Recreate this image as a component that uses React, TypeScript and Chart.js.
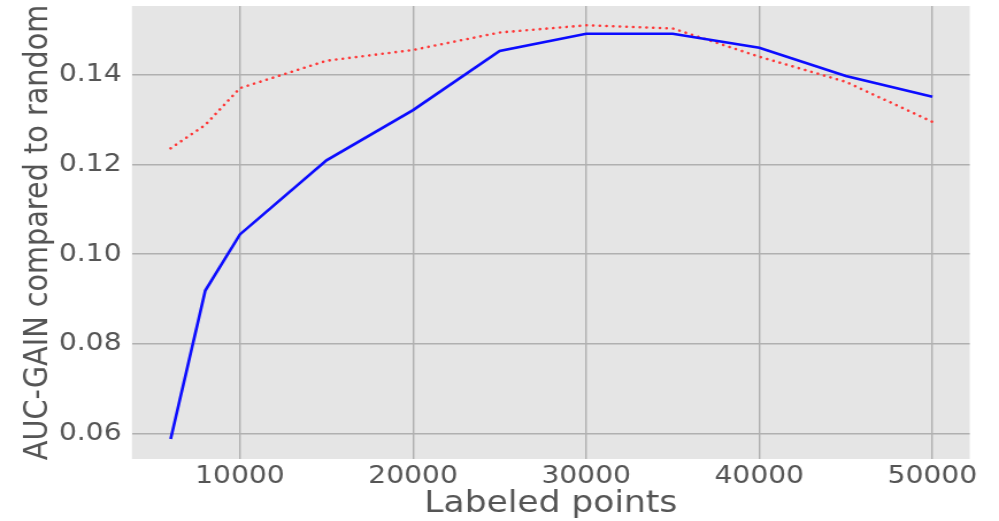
import React, { useEffect, useRef } from 'react';
import { Chart, registerables } from 'chart.js';

Chart.register(...registerables);

// ---- data ----
const labeledPoints = [6000, 8000, 10000, 15000, 20000, 25000, 30000, 35000, 40000, 45000, 50000];
const solidSeries = [0.0588, 0.0919, 0.1044, 0.1209, 0.1321, 0.1453, 0.1491, 0.1491, 0.146, 0.1397, 0.1351];
const dottedSeries = [0.1236, 0.1288, 0.137, 0.1431, 0.1455, 0.1494, 0.151, 0.1503, 0.144, 0.1384, 0.1295];
const xTickValues = [10000, 20000, 30000, 40000, 50000];
const yTickValues = [0.06, 0.08, 0.1, 0.12, 0.14];
const xTitle = 'Labeled points';
const yTitle = 'AUC-GAIN compared to random';

// ---- layout (internal canvas units; canvas is stretched horizontally by CSS) ----
const CSS_W = 999;
const CSS_H = 521;
const STRETCH = 1.15;
const CANVAS_W = Math.round(CSS_W / STRETCH);
const CANVAS_H = CSS_H;

const FONT = "'DejaVu Sans', sans-serif";
const TEXT_COLOR = '#555555';

const plotBackground = {
  id: 'plotBackground',
  beforeDraw(chart: any) {
    const { ctx, chartArea: a } = chart;
    ctx.save();
    ctx.fillStyle = '#ffffff';
    ctx.fillRect(0, 0, chart.width, chart.height);
    ctx.fillStyle = '#e5e5e5';
    ctx.fillRect(a.left, a.top, a.right - a.left, a.bottom - a.top);
    ctx.restore();
  },
};

export default function App() {
  const canvasRef = useRef<HTMLCanvasElement | null>(null);

  useEffect(() => {
    if (!canvasRef.current) return;
    const chart = new Chart(canvasRef.current, {
      type: 'line',
      data: {
        datasets: [
          {
            data: labeledPoints.map((x, i) => ({ x, y: solidSeries[i] })),
            borderColor: '#0c0cff',
            borderWidth: 2.6,
            pointRadius: 0,
            tension: 0,
            fill: false,
          },
          {
            data: labeledPoints.map((x, i) => ({ x, y: dottedSeries[i] })),
            borderColor: '#ff3535',
            borderWidth: 2.6,
            borderCapStyle: 'round',
            borderDash: [0.01, 5.8],
            pointRadius: 0,
            tension: 0,
            fill: false,
          },
        ],
      },
      options: {
        responsive: false,
        animation: false,
        devicePixelRatio: 1,
        layout: { padding: { left: 0, top: 6, right: 25.5, bottom: 0 } },
        plugins: {
          legend: { display: false },
          tooltip: { enabled: false },
        },
        scales: {
          x: {
            type: 'linear',
            min: 3765,
            max: 52154,
            afterFit: (scale: any) => {
              scale.height = 62;
              scale.paddingLeft = 0;
              scale.paddingRight = 0;
            },
            afterBuildTicks: (scale: any) => {
              scale.ticks = xTickValues.map((v) => ({ value: v }));
            },
            border: { display: false },
            grid: { color: '#b0b0b0', lineWidth: 1.4, drawTicks: false },
            ticks: {
              color: TEXT_COLOR,
              font: { family: FONT, size: 24.5 },
              padding: 3,
              maxRotation: 0,
              autoSkip: false,
              callback: (v: any) => String(v),
            },
            title: {
              display: true,
              text: xTitle,
              color: TEXT_COLOR,
              font: { family: FONT, size: 30, lineHeight: 1 },
              padding: { top: 0, bottom: 1.5 },
            },
          },
          y: {
            type: 'linear',
            min: 0.05436,
            max: 0.1553,
            afterFit: (scale: any) => {
              scale.width = 114.8;
              scale.paddingTop = 0;
              scale.paddingBottom = 0;
            },
            afterBuildTicks: (scale: any) => {
              scale.ticks = yTickValues.map((v) => ({ value: v }));
            },
            border: { display: false },
            grid: { color: '#b0b0b0', lineWidth: 1.4, drawTicks: false },
            ticks: {
              color: TEXT_COLOR,
              font: { family: FONT, size: 24.5 },
              padding: 9,
              autoSkip: false,
              callback: (v: any) => Number(v).toFixed(2),
            },
            title: {
              display: true,
              text: yTitle,
              color: TEXT_COLOR,
              font: { family: FONT, size: 28.7, lineHeight: 1.2 },
              padding: { top: 16.4, bottom: 0 },
            },
          },
        },
      },
      plugins: [plotBackground],
    } as any);
    return () => chart.destroy();
  }, []);

  return (
    <div style={{ position: 'fixed', left: 0, top: 0, width: CSS_W, height: CSS_H, background: '#ffffff' }}>
      <canvas
        ref={canvasRef}
        width={CANVAS_W}
        height={CANVAS_H}
        style={{ width: CSS_W + 'px', height: CSS_H + 'px', display: 'block' }}
      />
    </div>
  );
}
